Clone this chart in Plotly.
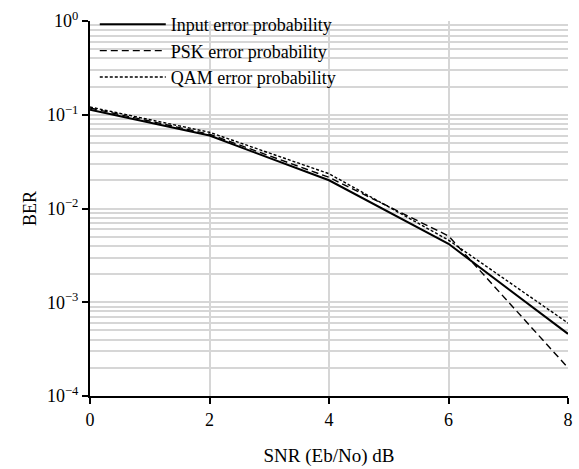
import plotly.graph_objects as go

snr = [0, 2, 4, 6, 8]
input_ber = [0.113, 0.060, 0.0200, 0.0042, 0.00046]
psk_ber = [0.118, 0.062, 0.0215, 0.0051, 0.00020]
qam_ber = [0.121, 0.065, 0.0235, 0.0046, 0.00060]
series_names = ["Input error probability", "PSK error probability", "QAM error probability"]
y_tickvals = [1, 0.1, 0.01, 0.001, 0.0001]
y_ticktext = ["10<sup>0</sup>", "10<sup>\u22121</sup>", "10<sup>\u22122</sup>", "10<sup>\u22123</sup>", "10<sup>\u22124</sup>"]
x_tickvals = [0, 2, 4, 6, 8]

font_family = "Liberation Serif"

fig = go.Figure()
fig.add_trace(go.Scatter(x=snr, y=input_ber, mode="lines", name=series_names[0],
                         line=dict(color="black", width=2)))
fig.add_trace(go.Scatter(x=snr, y=psk_ber, mode="lines", name=series_names[1],
                         line=dict(color="black", width=1.4, dash="7px,4px")))
fig.add_trace(go.Scatter(x=snr, y=qam_ber, mode="lines", name=series_names[2],
                         line=dict(color="black", width=1.4, dash="3px,2px")))

fig.update_layout(
    width=579, height=469,
    margin=dict(l=90, r=6, t=16, b=72),
    paper_bgcolor="white", plot_bgcolor="white",
    font=dict(family=font_family, size=18, color="black"),
    showlegend=True,
    legend=dict(x=0.01, y=1.04, xanchor="left", yanchor="top",
                bgcolor="rgba(0,0,0,0)", font=dict(size=18, family=font_family),
                itemwidth=66, tracegroupgap=0),
    xaxis=dict(range=[0, 8], tickvals=x_tickvals, showgrid=True, gridcolor="#d6d6d6", gridwidth=1.5,
               showline=True, linecolor="black", linewidth=2, ticks="outside", ticklen=6,
               tickwidth=2, tickcolor="black", zeroline=False,
               title=dict(text="SNR (Eb/No) dB", font=dict(size=19, family=font_family), standoff=20),
               tickfont=dict(size=18, family=font_family)),
    yaxis=dict(type="log", range=[-4, 0], tickvals=y_tickvals, ticktext=y_ticktext,
               showgrid=True, gridcolor="#d6d6d6", gridwidth=1.5,
               minor=dict(showgrid=True, gridcolor="#d6d6d6", gridwidth=1.5, dtick="D1"),
               showline=True, linecolor="black", linewidth=2, ticks="outside", ticklen=6,
               tickwidth=2, tickcolor="black", zeroline=False,
               title=dict(text="BER", font=dict(size=18, family=font_family), standoff=6),
               tickfont=dict(size=18, family=font_family)),
)

fig.write_html("out.html")
